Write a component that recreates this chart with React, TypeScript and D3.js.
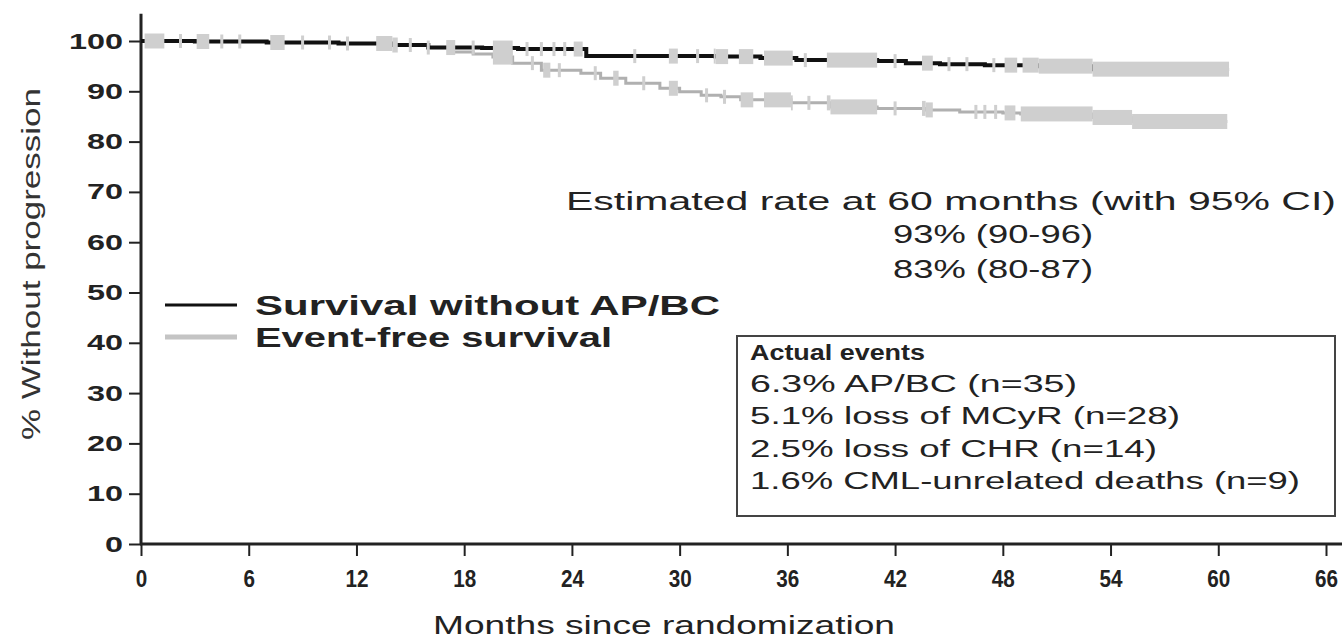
import { useEffect, useRef } from 'react'
import { select, scaleLinear, axisLeft, axisBottom, line, curveStepAfter } from 'd3'

// months, % still event-free (Kaplan-Meier steps)
const apbcSteps: [number, number][] = [
  [0, 100], [3, 99.9], [7, 99.7], [11, 99.5], [14, 99.2], [16, 98.7], [19, 98.6], [21, 98.4],
  [24.8, 97.0], [32, 96.9], [34.5, 96.6], [36.5, 96.2], [41, 96.0], [42.6, 95.6], [44.5, 95.4],
  [47, 95.2], [50, 95.0], [53, 94.4],
]
const apbcEnd = 60.6
const efsSteps: [number, number][] = [
  [0, 100], [3, 99.9], [7, 99.7], [11, 99.5], [14, 99.2], [16, 98.7], [17.4, 97.8], [18.5, 97.4],
  [19.6, 96.8], [20.7, 95.6], [22.3, 94.2], [24.5, 93.6], [25.6, 92.6], [27, 91.6], [28.9, 90.6],
  [30, 89.9], [31.2, 89.2], [32.3, 88.9], [33.4, 88.3], [36.2, 87.7], [38.4, 86.9], [41, 86.6],
  [43.7, 86.3], [45.6, 85.9], [48, 85.7], [49, 85.5], [53, 84.8], [55.2, 84.0],
]
const efsEnd = 60.5

// censored clusters [from, to] months and single censor ticks
const apbcCensorBlocks: [number, number][] = [
  [0.2, 1.3], [3.1, 3.8], [7.2, 8.0], [13.1, 14.3], [17, 17.5], [19.6, 20.7], [24.1, 24.6],
  [29.4, 29.9], [31.9, 32.7], [33.3, 34.1], [34.7, 36.3], [38.2, 41], [43.5, 44.1], [48.1, 48.8],
  [49.1, 60.6],
]
const efsCensorBlocks: [number, number][] = [
  [19.6, 20.7], [22.4, 22.8], [26.3, 26.6], [29.4, 29.9], [33.4, 34.1], [34.7, 36.3], [38.2, 41],
  [43.5, 44.1], [48.1, 48.7], [49, 60.5],
]
const apbcCensorTicks = [2.2, 4.5, 5.5, 9, 10.5, 11.5, 15, 16, 18.5, 21.5, 22.3, 23, 23.6, 27.5, 31, 37, 42, 45, 46, 47.5]
const efsCensorTicks = [21.8, 23.3, 25.3, 28, 31.5, 32.5, 37.2, 42, 46.5, 47, 47.6]

const xTicks = [0, 6, 12, 18, 24, 30, 36, 42, 48, 54, 60, 66]
const yTicks = [0, 10, 20, 30, 40, 50, 60, 70, 80, 90, 100]

const legendLabels = ['Survival without AP/BC', 'Event-free survival']
const estimateLines = ['Estimated rate at 60 months (with 95% CI)', '93% (90-96)', '83% (80-87)']
const eventsTitle = 'Actual events'
const eventLines = ['6.3% AP/BC (n=35)', '5.1% loss of MCyR (n=28)', '2.5% loss of CHR (n=14)', '1.6% CML-unrelated deaths (n=9)']

const FONT = '"Liberation Sans", Arial, Helvetica, sans-serif'
const INK = '#222'
const GRAY = '#cfcfcf'

function valueAt(steps: [number, number][], t: number) {
  let v = steps[0][1]
  for (const [m, s] of steps) if (m <= t) v = s
  return v
}

export default function App() {
  const svgRef = useRef<SVGSVGElement | null>(null)

  useEffect(() => {
    const svg = select(svgRef.current)
    svg.selectAll('*').remove()

    const x = scaleLinear().domain([0, 66]).range([141, 1326])
    const y = scaleLinear().domain([0, 100]).range([544, 41])

    // axes
    const yAxis = axisLeft(y).tickValues(yTicks).tickSize(12).tickPadding(6)
    const gy = svg.append('g').attr('transform', `translate(${x(0)},0)`).call(yAxis as any)
    gy.select('.domain').remove()
    gy.selectAll('line').attr('stroke', INK).attr('stroke-width', 2)
    gy.selectAll('text')
      .attr('font-family', FONT).attr('font-size', 22).attr('font-weight', 'bold').attr('fill', INK)
      .attr('textLength', (d: any) => String(d).length * 18).attr('lengthAdjust', 'spacingAndGlyphs')

    const xAxis = axisBottom(x).tickValues(xTicks).tickSize(12).tickPadding(14)
    const gx = svg.append('g').attr('transform', `translate(0,${y(0)})`).call(xAxis as any)
    gx.select('.domain').remove()
    gx.selectAll('line').attr('stroke', INK).attr('stroke-width', 2)
    gx.selectAll('text')
      .attr('font-family', FONT).attr('font-size', 24).attr('font-weight', 'bold').attr('fill', INK)
      .attr('textLength', (d: any) => String(d).length * 11.5).attr('lengthAdjust', 'spacingAndGlyphs')

    svg.append('line').attr('x1', x(0)).attr('x2', x(0)).attr('y1', y(105.4)).attr('y2', y(0) + 1)
      .attr('stroke', INK).attr('stroke-width', 3)
    svg.append('line').attr('x1', x(0) - 1).attr('x2', 1342).attr('y1', y(0)).attr('y2', y(0))
      .attr('stroke', INK).attr('stroke-width', 3)

    // curves
    const path = line<[number, number]>().x((d) => x(d[0])).y((d) => y(d[1])).curve(curveStepAfter)
    const efsData = [...efsSteps, [efsEnd, efsSteps[efsSteps.length - 1][1]] as [number, number]]
    const apbcData = [...apbcSteps, [apbcEnd, apbcSteps[apbcSteps.length - 1][1]] as [number, number]]

    svg.append('path').attr('d', path(efsData)).attr('fill', 'none').attr('stroke', '#b0b0b0').attr('stroke-width', 3)
    svg.append('path').attr('d', path(apbcData)).attr('fill', 'none').attr('stroke', '#111').attr('stroke-width', 4)

    const drawBlocks = (steps: [number, number][], blocks: [number, number][]) => {
      blocks.forEach(([s, e]) => {
        const cuts = [s, ...steps.map((d) => d[0]).filter((m) => m > s && m < e), e]
        for (let i = 0; i < cuts.length - 1; i++) {
          const v = valueAt(steps, cuts[i])
          svg.append('rect')
            .attr('x', x(cuts[i])).attr('width', x(cuts[i + 1]) - x(cuts[i]))
            .attr('y', y(v) - 7.5).attr('height', 15).attr('fill', GRAY)
        }
      })
    }
    const drawTicks = (steps: [number, number][], ticks: number[]) => {
      ticks.forEach((t) => {
        svg.append('rect').attr('x', x(t) - 1.5).attr('width', 3)
          .attr('y', y(valueAt(steps, t)) - 7).attr('height', 14).attr('fill', GRAY)
      })
    }
    drawBlocks(efsSteps, efsCensorBlocks)
    drawBlocks(apbcSteps, apbcCensorBlocks)
    drawTicks(efsSteps, efsCensorTicks)
    drawTicks(apbcSteps, apbcCensorTicks)

    const txt = (s: string, tx: number, ty: number, size: number, len: number, bold = false) =>
      svg.append('text').attr('x', tx).attr('y', ty).text(s)
        .attr('font-family', FONT).attr('font-size', size).attr('fill', INK)
        .attr('font-weight', bold ? 'bold' : 'normal')
        .attr('textLength', len).attr('lengthAdjust', 'spacingAndGlyphs')

    // axis titles
    txt('Months since randomization', 433, 634, 26, 462)
    svg.append('text').attr('transform', 'translate(40,264) rotate(-90)').attr('text-anchor', 'middle')
      .text('% Without progression').attr('font-family', FONT).attr('font-size', 25).attr('fill', '#333')
      .attr('textLength', 352).attr('lengthAdjust', 'spacingAndGlyphs')

    // estimate annotation
    txt(estimateLines[0], 566, 210, 26, 770)
    txt(estimateLines[1], 893, 243, 26, 200)
    txt(estimateLines[2], 893, 278, 26, 200)

    // legend
    const legendColors = ['#111', '#c4c4c4']
    const legendWidths = [465, 357]
    legendLabels.forEach((l, i) => {
      const ly = 305 + i * 32
      svg.append('line').attr('x1', 165).attr('x2', 237).attr('y1', ly).attr('y2', ly)
        .attr('stroke', legendColors[i]).attr('stroke-width', i === 0 ? 3 : 5)
      txt(l, 255, ly + 10, 28, legendWidths[i], true)
    })

    // events box
    svg.append('rect').attr('x', 737).attr('y', 336).attr('width', 598).attr('height', 180)
      .attr('fill', 'none').attr('stroke', '#444').attr('stroke-width', 2)
    txt(eventsTitle, 750, 360, 22, 175, true)
    const eventWidths = [327, 430, 407, 550]
    eventLines.forEach((l, i) => txt(l, 750, 392 + i * 32.3, 23, eventWidths[i]))
  }, [])

  return (
    <svg ref={svgRef} width={1342} height={641}
      style={{ position: 'absolute', left: 0, top: 0, background: '#fff', display: 'block' }} />
  )
}
